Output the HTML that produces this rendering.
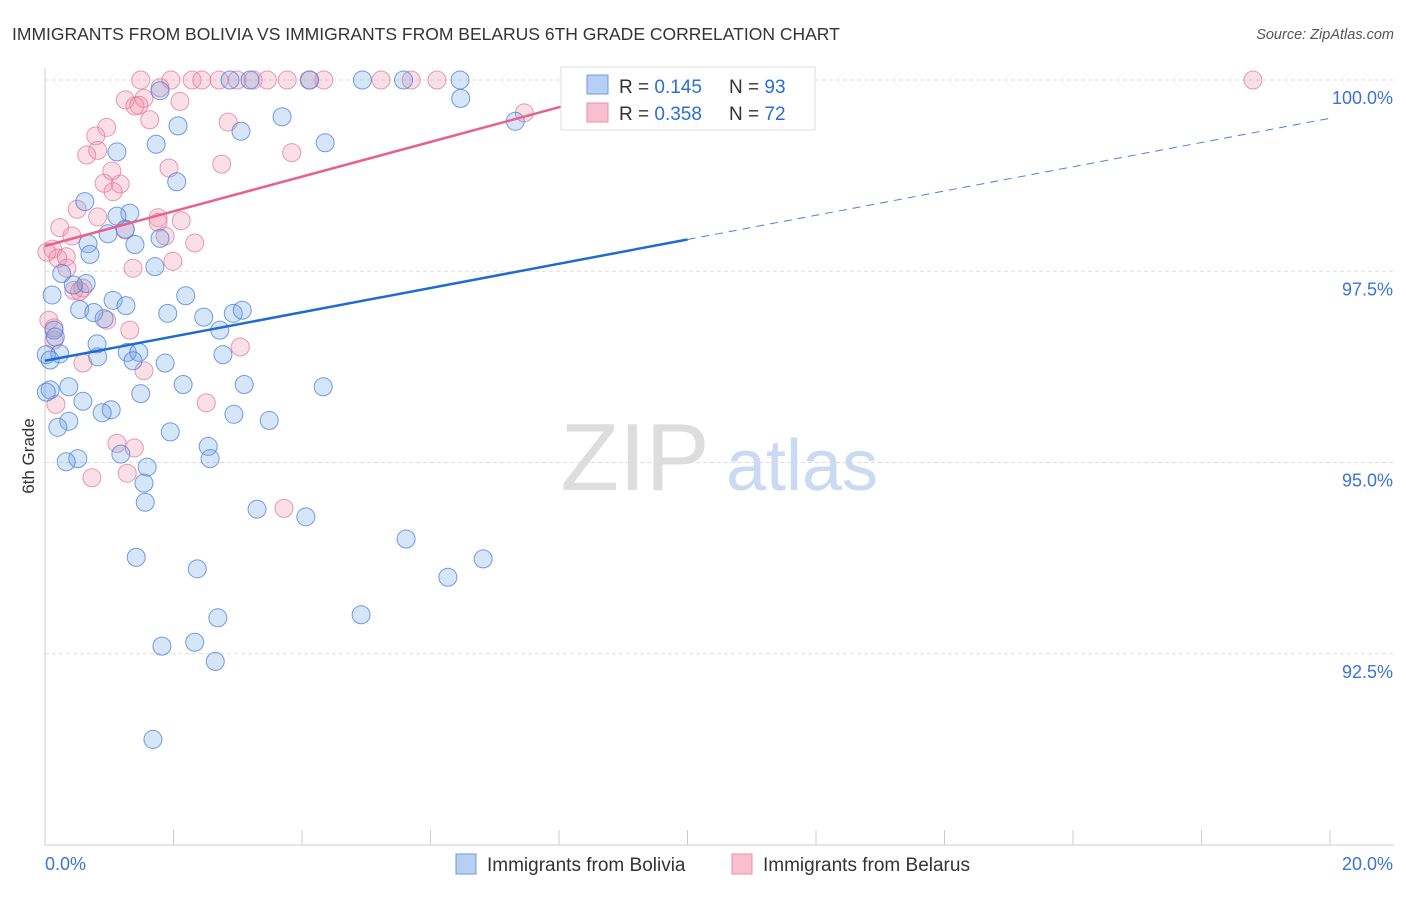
<!DOCTYPE html>
<html><head><meta charset="utf-8"><style>
body{margin:0;background:#fff;font-family:"Liberation Sans",sans-serif}
svg text{font-family:"Liberation Sans",sans-serif}
</style></head><body>
<svg id="c" width="1406" height="892">
<text x="12" y="40" font-size="17.5" fill="#333">IMMIGRANTS FROM BOLIVIA VS IMMIGRANTS FROM BELARUS 6TH GRADE CORRELATION CHART</text>
<text x="1394" y="39" font-size="14.5" fill="#555" font-style="italic" text-anchor="end">Source: ZipAtlas.com</text>
<g>
<text x="635" y="490" font-size="96" fill="#ddd" font-family="Liberation Serif" text-anchor="middle">ZIP</text>
<text x="802" y="490" font-size="72" fill="#c9daf2" text-anchor="middle">atlas</text>
</g>
<text transform="translate(34,456) rotate(-90)" font-size="17" fill="#333" text-anchor="middle">6th Grade</text>
<g id="grid"></g><g id="pts"></g><g id="lines"></g>
<g>
<rect x="561" y="67" width="254" height="63" fill="#fff" stroke="#ddd"/>
<rect x="587" y="75" width="21" height="19" fill="#b7cff2" stroke="#6d9be0"/>
<rect x="587" y="103" width="21" height="19" fill="#f7bfd0" stroke="#ea93ae"/>
<text x="619" y="93" font-size="19" fill="#333">R = <tspan fill="#2a6fd6">0.145</tspan><tspan x="729">N = </tspan><tspan fill="#2a6fd6">93</tspan></text>
<text x="619" y="120" font-size="19" fill="#333">R = <tspan fill="#2a6fd6">0.358</tspan><tspan x="729">N = </tspan><tspan fill="#2a6fd6">72</tspan></text>
</g>
<g>
<rect x="456" y="854" width="20" height="20" fill="#b7cff2" stroke="#6d9be0"/>
<text x="487" y="871" font-size="19" fill="#333">Immigrants from Bolivia</text>
<rect x="732" y="854" width="20" height="20" fill="#f7bfd0" stroke="#ea93ae"/>
<text x="763" y="871" font-size="19" fill="#333">Immigrants from Belarus</text>
</g>
</svg>
<script>
const yTicks=[100,97.5,95,92.5];
const yTickLabels=["100.0%","97.5%","95.0%","92.5%"];
const xTickLabels=["0.0%","20.0%"];
const blueX=[4.94,5.58,6.46,4.12,3.19,2.88,6.47,1.79,7.32,2.07,3.05,3.69,4.36,1.73,1.12,2.05,0.62,1.32,1.12,0.98,1.25,1.79,1.40,0.67,0.70,1.71,0.26,0.64,0.44,2.19,0.11,1.06,1.26,0.54,1.91,0.76,0.92,2.47,2.93,3.07,2.72,0.14,0.16,0.81,1.28,1.46,0.82,0.23,1.87,1.37,0.02,2.77,0.37,2.15,3.10,4.33,1.49,0.59,1.03,0.89,2.94,3.49,0.08,0.37,0.20,1.95,2.54,1.18,0.51,0.33,2.57,1.59,1.54,1.56,3.30,4.06,5.62,1.42,2.37,6.82,6.27,2.69,4.92,1.82,2.33,2.65,1.68,0.02,0.08];
const blueY=[100,100,100,100,100,100,99.76,99.86,99.46,99.40,99.33,99.52,99.18,99.16,99.06,98.67,98.41,98.26,98.22,97.99,98.05,97.93,97.85,97.86,97.72,97.56,97.47,97.34,97.32,97.18,97.19,97.12,97.05,97.00,96.95,96.96,96.88,96.90,96.95,96.99,96.73,96.73,96.64,96.55,96.44,96.44,96.38,96.42,96.30,96.33,96.41,96.41,95.99,96.02,96.02,95.99,95.90,95.80,95.69,95.65,95.63,95.55,95.95,95.54,95.46,95.40,95.21,95.11,95.05,95.01,95.05,94.94,94.73,94.48,94.39,94.29,94.00,93.76,93.61,93.74,93.50,92.97,93.01,92.60,92.65,92.40,91.38,95.92,96.34];
const pinkX=[1.49,1.96,2.29,2.44,2.71,2.99,3.24,3.46,3.77,4.11,4.34,5.23,5.70,6.10,18.80,1.79,1.54,1.25,1.46,2.10,1.40,1.63,0.96,2.85,0.79,0.82,0.65,3.84,2.75,1.93,1.04,0.92,1.17,1.06,0.50,0.82,1.76,2.12,1.76,0.23,0.42,1.25,1.87,2.33,0.12,0.03,0.20,0.33,1.99,1.37,0.34,0.45,0.54,0.59,0.96,1.32,0.14,0.06,3.04,1.54,0.59,2.51,0.17,1.12,1.39,1.28,0.73,3.72,7.46,0.14];
const pinkY=[100,100,100,100,100,100,100,100,100,100,100,100,100,100,100,99.90,99.76,99.74,99.67,99.72,99.66,99.48,99.38,99.45,99.27,99.08,99.02,99.05,98.90,98.85,98.81,98.65,98.64,98.54,98.31,98.21,98.20,98.16,98.14,98.07,97.96,98.04,97.96,97.87,97.79,97.75,97.67,97.69,97.63,97.54,97.54,97.25,97.24,97.28,96.86,96.73,96.60,96.86,96.51,96.20,96.30,95.78,95.76,95.25,95.19,94.86,94.80,94.40,99.57,96.76];
const blueFit=[96.33,99.50];
const pinkFit=[97.83,100.0];
const pinkEnd=9.57, blueSolidEnd=10.0;
const X=v=>45+v*64.25, Y=v=>80+(100-v)*76.5;
const NS="http://www.w3.org/2000/svg";
function mk(t,a,p){const e=document.createElementNS(NS,t);for(const k in a)e.setAttribute(k,a[k]);p.appendChild(e);return e;}
const grid=document.getElementById('grid');
mk('line',{x1:45,y1:68,x2:45,y2:845,stroke:'#ccc'},grid);
mk('line',{x1:45,y1:845,x2:1394,y2:845,stroke:'#ccc'},grid);
for(let i=0;i<=10;i++){const l=mk('line',{x1:X(i*2),y1:830,x2:X(i*2),y2:845,stroke:'#ccc'},grid);

}
yTicks.forEach((t,i)=>{const l=mk('line',{x1:45,y1:Y(t),x2:1394,y2:Y(t),stroke:'#ddd','stroke-dasharray':'4,3'},grid);


const tx=mk('text',{x:1393,y:Y(t)+24,'font-size':18,fill:'#3b74d4','text-anchor':'end'},grid);tx.textContent=yTickLabels[i];

});
const x0=mk('text',{x:45,y:870,'font-size':18,fill:'#3b74d4'},grid);x0.textContent=xTickLabels[0];


const x1=mk('text',{x:1393,y:870,'font-size':18,fill:'#3b74d4','text-anchor':'end'},grid);x1.textContent=xTickLabels[1];


const pts=document.getElementById('pts');
pinkX.forEach((x,i)=>{const c=mk('circle',{cx:X(x),cy:Y(pinkY[i]),r:9,fill:'rgba(240,140,170,0.28)',stroke:'rgba(225,120,155,0.75)','stroke-width':1},pts);

});
blueX.forEach((x,i)=>{const c=mk('circle',{cx:X(x),cy:Y(blueY[i]),r:9,fill:'rgba(110,160,230,0.28)',stroke:'rgba(70,125,215,0.75)','stroke-width':1},pts);

});
const ln=document.getElementById('lines');
const bAt=v=>blueFit[0]+(blueFit[1]-blueFit[0])*v/20;
const bl=mk('line',{x1:X(0),y1:Y(blueFit[0]),x2:X(blueSolidEnd),y2:Y(bAt(blueSolidEnd)),stroke:'#1f6bd6','stroke-width':2.5},ln);


const bd=mk('line',{x1:X(blueSolidEnd),y1:Y(bAt(blueSolidEnd)),x2:X(20),y2:Y(blueFit[1]),stroke:'#4a82d8','stroke-width':1,'stroke-dasharray':'8,6'},ln);


const pl=mk('line',{x1:X(0),y1:Y(pinkFit[0]),x2:X(pinkEnd),y2:Y(pinkFit[1]),stroke:'#e8608b','stroke-width':2.5},ln);


</script>
</body></html>
